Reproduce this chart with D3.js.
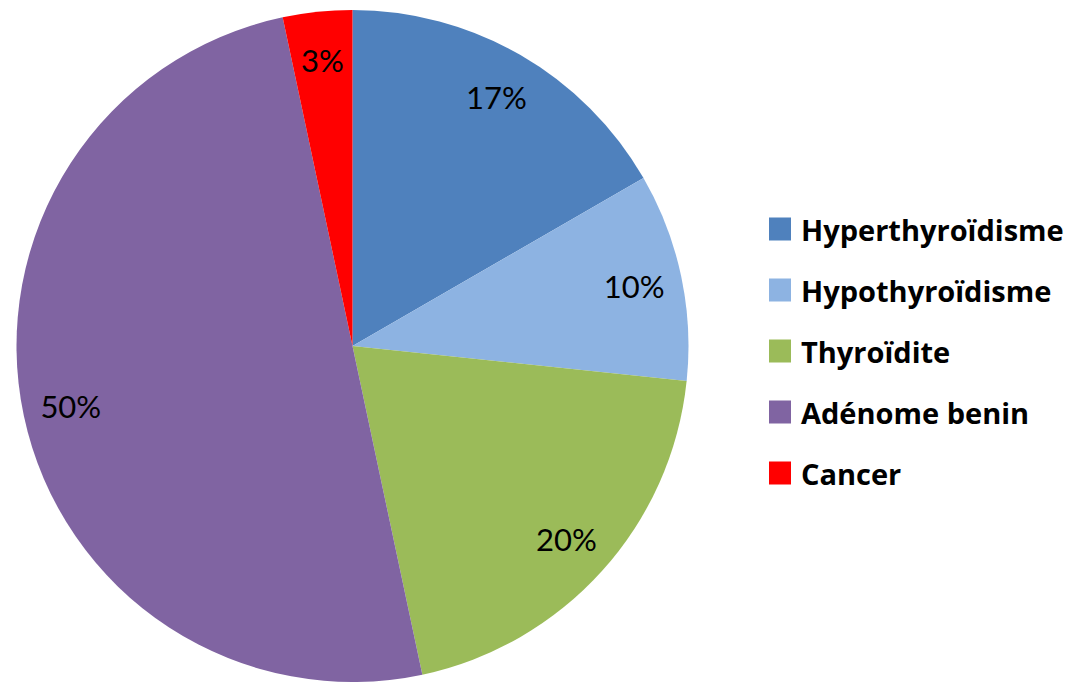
<!DOCTYPE html>
<html>
<head>
<meta charset="utf-8">
<script src="https://cdn.jsdelivr.net/npm/d3@7"></script>
<style>
  html, body { margin: 0; padding: 0; background: #fff; }
  svg { display: block; }
</style>
</head>
<body>
<svg id="chart" width="1077" height="682"></svg>
<script>
const categories = ["Hyperthyroïdisme", "Hypothyroïdisme", "Thyroïdite", "Adénome benin", "Cancer"];
const values = [5, 3, 6, 15, 1];
const colors = ["#4F81BD", "#8DB3E2", "#9BBB59", "#8064A2", "#FF0000"];

const svg = d3.select("#chart");
const cx = 352.5, cy = 346, R = 336, labelR = 288;

const total = d3.sum(values);
const data = categories.map((c, i) => ({ name: c, value: values[i], color: colors[i] }));
const pie = d3.pie().value(d => d.value).sort(null);
const arcs = pie(data);
const arc = d3.arc().innerRadius(0).outerRadius(R);
const labelArc = d3.arc().innerRadius(labelR).outerRadius(labelR);
const pct = v => Math.round(v / total * 100) + "%";

const g = svg.append("g").attr("transform", `translate(${cx},${cy})`);
g.selectAll("path").data(arcs).enter().append("path")
  .attr("d", arc)
  .attr("fill", d => d.data.color);

g.selectAll("text").data(arcs).enter().append("text")
  .attr("transform", d => `translate(${labelArc.centroid(d)})`)
  .attr("text-anchor", "middle")
  .attr("dominant-baseline", "central")
  .attr("font-family", "Lato, 'Open Sans', sans-serif")
  .attr("font-size", 31)
  .attr("fill", "#000")
  .text(d => pct(d.data.value));

const legend = svg.append("g");
const legendY = d3.scalePoint().domain(categories).range([229, 473]);
const items = legend.selectAll("g").data(data).enter().append("g")
  .attr("transform", d => `translate(769,${legendY(d.name)})`);
items.append("rect")
  .attr("x", 0).attr("y", -11.5).attr("width", 22).attr("height", 23)
  .attr("fill", d => d.color);
items.append("text")
  .attr("x", 32).attr("y", 0)
  .attr("dominant-baseline", "central")
  .attr("font-family", "'Open Sans', sans-serif")
  .attr("font-weight", "bold")
  .attr("font-size", 29)
  .attr("fill", "#000")
  .text(d => d.name);
</script>
</body>
</html>
